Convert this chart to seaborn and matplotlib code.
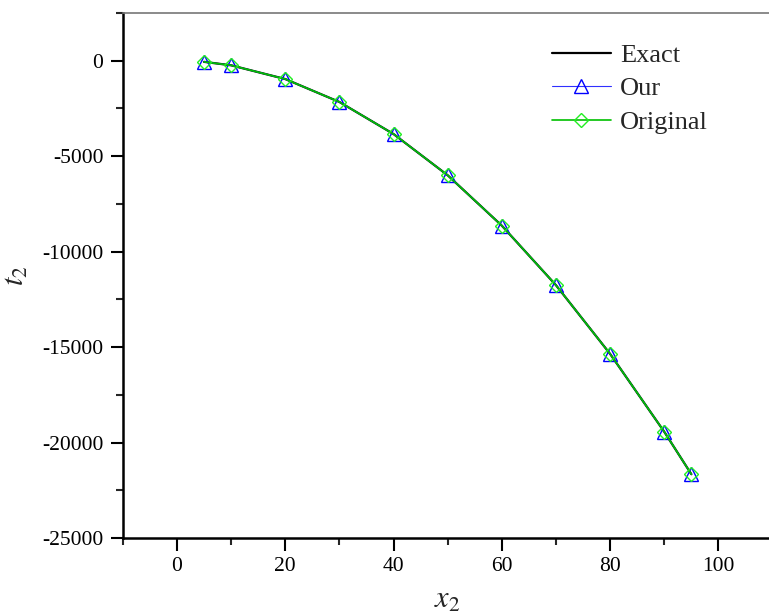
import matplotlib
matplotlib.use("Agg")
import matplotlib.pyplot as plt
import seaborn as sns
import pandas as pd
from matplotlib.ticker import MultipleLocator

x_vals = [5, 10, 20, 30, 40, 50, 60, 70, 80, 90, 95]
exact = [-60, -240, -960, -2160, -3840, -6000, -8640, -11760, -15360, -19440, -21660]
our = [-60, -240, -960, -2160, -3840, -6000, -8640, -11760, -15360, -19440, -21660]
original = [-60, -240, -960, -2160, -3840, -6000, -8640, -11760, -15360, -19440, -21660]
x_ticks = [0, 20, 40, 60, 80, 100]
y_ticks = [0, -5000, -10000, -15000, -20000, -25000]

sns.set_theme(style="white")
plt.rcParams["font.family"] = ["Liberation Serif", "DejaVu Serif"]
plt.rcParams["mathtext.fontset"] = "stix"

df = pd.DataFrame({"x": x_vals, "Exact": exact, "Our": our, "Original": original})

fig = plt.figure(figsize=(7.69, 6.15), dpi=100)
ax = fig.add_axes([0.1596, 0.1252, 1.0047 - 0.1596, 0.9789 - 0.1252])

sns.lineplot(data=df, x="x", y="Exact", ax=ax, color="black", lw=1.6, label="Exact")
sns.lineplot(data=df, x="x", y="Our", ax=ax, color="#3030ff", lw=0.8, marker="^",
             markersize=10, markerfacecolor="none", markeredgecolor="#0000ff",
             markeredgewidth=1.0, label="Our")
sns.lineplot(data=df, x="x", y="Original", ax=ax, color="#00c000", lw=1.2, marker="D",
             markersize=7.5, markerfacecolor="none", markeredgecolor="#22ee22",
             markeredgewidth=1.0, label="Original")

ax.set_xlim(-10, 110)
ax.set_ylim(-25000, 2500)
ax.set_xticks(x_ticks)
ax.set_yticks(y_ticks)
ax.xaxis.set_minor_locator(MultipleLocator(10))
ax.yaxis.set_minor_locator(MultipleLocator(2500))
ax.tick_params(axis="both", which="major", direction="out", length=9, width=1.5,
               labelsize=15.5, colors="black", pad=5, bottom=True, left=True)
ax.tick_params(axis="both", which="minor", direction="out", length=5, width=1.5,
               bottom=True, left=True)
ax.set_xticklabels([str(v) for v in x_ticks])
ax.set_yticklabels([str(v) for v in y_ticks])

for s in ["left", "bottom"]:
    ax.spines[s].set_color("black")
    ax.spines[s].set_linewidth(1.8)
ax.spines["top"].set_color("#777777")
ax.spines["top"].set_linewidth(1.2)
ax.spines["right"].set_visible(False)

ax.set_xlabel("$x_2$", fontsize=22, labelpad=7)
ax.set_ylabel("$t_2$", fontsize=22, labelpad=8)

leg = ax.legend(loc="upper left", bbox_to_anchor=(0.645, 0.962), frameon=False,
                fontsize=19, handlelength=2.2, handletextpad=0.35, labelspacing=0.38,
                borderaxespad=0)

fig.savefig("out.png", dpi=100)
